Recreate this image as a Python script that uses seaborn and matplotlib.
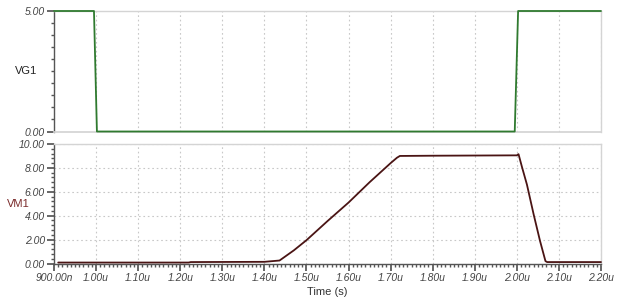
import matplotlib
matplotlib.use("Agg")
import matplotlib.pyplot as plt
import seaborn as sns
import pandas as pd
from matplotlib.ticker import MultipleLocator

sns.set_theme(style="white")
plt.rcParams['font.family'] = ['Liberation Sans', 'DejaVu Sans']

# Data (time in microseconds)
vg1_t = [0.90, 0.995, 1.002, 1.995, 2.003, 2.20]
vg1_v = [5.0, 5.0, 0.0, 0.0, 5.0, 5.0]

vm1_t = [0.91, 1.22, 1.225, 1.40, 1.436, 1.45, 1.47, 1.50, 1.55, 1.60, 1.65, 1.70, 1.715, 1.722,
         1.80, 2.00, 2.004, 2.012, 2.024, 2.04, 2.055, 2.068, 2.072, 2.20]
vm1_v = [0.08, 0.08, 0.12, 0.14, 0.25, 0.6, 1.1, 1.95, 3.55, 5.1, 6.8, 8.4, 8.85, 9.0,
         9.02, 9.05, 9.15, 8.1, 6.6, 4.1, 1.9, 0.2, 0.12, 0.12]

x_ticks = [0.90, 1.00, 1.10, 1.20, 1.30, 1.40, 1.50, 1.60, 1.70, 1.80, 1.90, 2.00, 2.10, 2.20]
x_labels = ["900.00n", "1.00u", "1.10u", "1.20u", "1.30u", "1.40u", "1.50u",
            "1.60u", "1.70u", "1.80u", "1.90u", "2.00u", "2.10u", "2.20u"]
vg1_ticks = [0.0, 5.0]
vg1_labels = ["0.00", "5.00"]
vm1_ticks = [0, 2, 4, 6, 8, 10]
vm1_labels = ["0.00", "2.00", "4.00", "6.00", "8.00", "10.00"]

df_vg = pd.DataFrame({"t": vg1_t, "v": vg1_v})
df_vm = pd.DataFrame({"t": vm1_t, "v": vm1_v})

fig = plt.figure(figsize=(6.19, 3.04), dpi=100)
L, R = 54 / 619, 601 / 619
ax1 = fig.add_axes([L, 1 - 131.5 / 304, R - L, 120.5 / 304])
ax2 = fig.add_axes([L, 1 - 263.5 / 304, R - L, 119.5 / 304])

sns.lineplot(data=df_vg, x="t", y="v", ax=ax1, color="#2f7a2f", linewidth=1.3)
sns.lineplot(data=df_vm, x="t", y="v", ax=ax2, color="#4a1414", linewidth=1.3)
for ax in (ax1, ax2):
    for ln in ax.get_lines():
        ln.set_clip_on(False)
        ln.set_zorder(5)

tick_color = "#555555"
light = "#d4d4d4"
for ax in (ax1, ax2):
    ax.set_xlim(0.90, 2.20)
    ax.set_xlabel("")
    ax.set_ylabel("")
    for s in ("top", "right"):
        ax.spines[s].set_color(light)
        ax.spines[s].set_linewidth(1.0)
    ax.spines["left"].set_color(tick_color)
    ax.spines["left"].set_linewidth(1.0)
    ax.set_xticks(x_ticks)
    ax.grid(True, axis="x", linestyle=(0, (1.5, 2.5)), color="#c8c8c8", linewidth=0.8)
    ax.tick_params(axis="y", which="both", direction="out", left=True, color=tick_color,
                   labelsize=7.5, labelcolor="#444444", pad=1.5)
    ax.tick_params(axis="y", which="major", length=5)
    ax.tick_params(axis="y", which="minor", length=2.5)

# Top axis
ax1.set_ylim(0, 5)
ax1.set_yticks(vg1_ticks)
ax1.set_yticklabels(vg1_labels, fontstyle="italic")
ax1.yaxis.set_minor_locator(MultipleLocator(0.5))
ax1.spines["bottom"].set_color(light)
ax1.tick_params(axis="x", which="both", bottom=False, labelbottom=False)
ax1.text(-0.03, 0.5, "VG1", transform=ax1.transAxes, ha="right", va="center",
         fontsize=8, color="#222222")

# Bottom axis
ax2.set_ylim(0, 10)
ax2.set_yticks(vm1_ticks)
ax2.set_yticklabels(vm1_labels, fontstyle="italic")
ax2.yaxis.set_minor_locator(MultipleLocator(0.4))
ax2.grid(True, axis="y", linestyle=(0, (1.5, 2.5)), color="#c8c8c8", linewidth=0.8)
ax2.spines["bottom"].set_color(tick_color)
ax2.spines["bottom"].set_linewidth(1.0)
ax2.set_xticklabels(x_labels, fontstyle="italic")
ax2.xaxis.set_minor_locator(MultipleLocator(0.01))
ax2.tick_params(axis="x", which="both", direction="out", bottom=True, color=tick_color,
                labelsize=7.5, labelcolor="#444444", pad=2)
ax2.tick_params(axis="x", which="major", length=5)
ax2.tick_params(axis="x", which="minor", length=2.5)
ax2.set_xlabel("Time (s)", fontsize=8, color="#333333", labelpad=3)
ax2.text(-0.045, 0.5, "VM1", transform=ax2.transAxes, ha="right", va="center",
         fontsize=8, color="#7a2a2a")

fig.savefig("out.png", dpi=100, facecolor="white")
